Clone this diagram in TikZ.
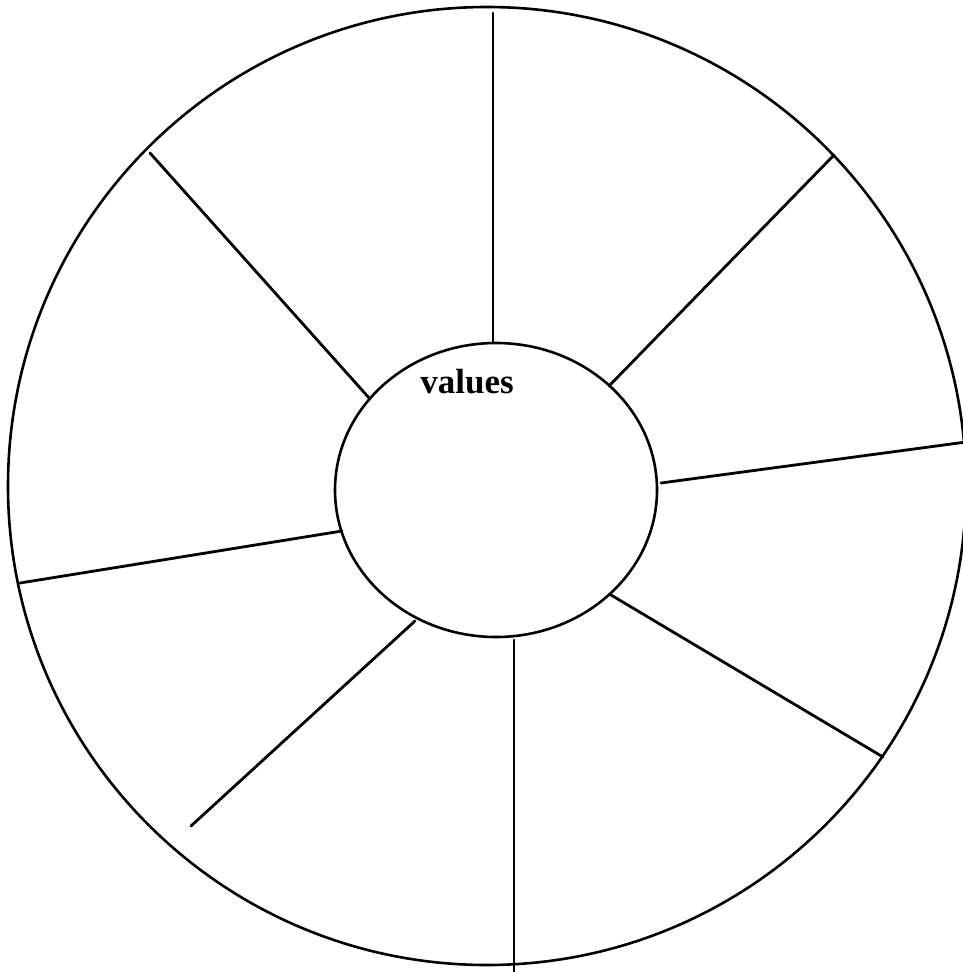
\documentclass[tikz,border=0pt]{standalone}
\usepackage{fontspec}
\setmainfont{Liberation Serif}
\begin{document}
\begin{tikzpicture}[x=1pt,y=-1pt,
  ring/.style={line width=2.6pt},
  spoke/.style={line width=2.8pt,line cap=round}]
\useasboundingbox (0,0) rectangle (963,972);
\begin{scope}
\clip (0,0) rectangle (963,972);
\draw[ring] (487,486) circle (479);
\end{scope}
\draw[ring] (496,490) ellipse (161 and 147);
\node[font=\fontsize{35}{38}\selectfont\bfseries] (lbl) at (467,382) {values};
% spokes
\coordinate (t1) at (493,13);   \coordinate (t2) at (493,343);
\coordinate (ur1) at (834,155); \coordinate (ur2) at (609,386);
\coordinate (r1) at (966,442);  \coordinate (r2) at (661,483);
\coordinate (lr1) at (883,757); \coordinate (lr2) at (611,595);
\coordinate (b1) at (514,975);  \coordinate (b2) at (514,640);
\coordinate (ll1) at (191,826); \coordinate (ll2) at (415,621);
\coordinate (l1) at (20,583);   \coordinate (l2) at (342,531);
\coordinate (ul1) at (150,153); \coordinate (ul2) at (370,399);
\foreach \a/\b in {t1/t2,ur1/ur2,r1/r2,lr1/lr2,b1/b2,ll1/ll2,l1/l2,ul1/ul2}
  \draw[spoke] (\a) -- (\b);
\end{tikzpicture}
\end{document}
